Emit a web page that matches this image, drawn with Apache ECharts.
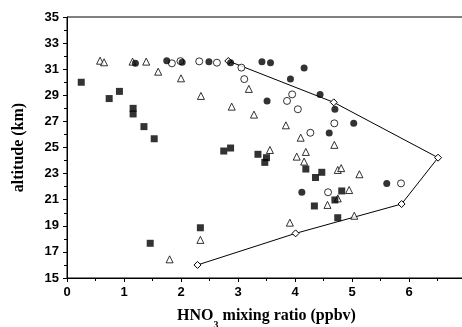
<!DOCTYPE html>
<html><head><meta charset="utf-8">
<script src="https://cdn.jsdelivr.net/npm/echarts@6/dist/echarts.min.js"></script>
<style>html,body{margin:0;padding:0;background:#fff}#c{width:462px;height:327px}</style>
</head><body><div id="c"></div>
<script>
var xTicks = [0,1,2,3,4,5,6];
var yTicks = [15,17,19,21,23,25,27,29,31,33,35];
var filledSquares = [[0.25,30.0],[0.74,28.75],[0.92,29.3],[1.16,28.0],[1.16,27.57],[1.35,26.6],[1.53,25.67],[1.46,17.66],[2.34,18.85],[2.75,24.73],[2.87,24.96],[3.35,24.48],[3.50,24.22],[3.47,23.86],[4.19,23.35],[4.36,22.7],[4.47,23.1],[4.34,20.52],[4.82,21.67],[4.70,20.98],[4.75,19.62]];
var filledCircles = [[1.20,31.45],[1.75,31.65],[2.02,31.53],[2.49,31.57],[2.87,31.5],[3.42,31.57],[3.57,31.5],[4.16,31.1],[3.92,30.24],[3.51,28.57],[4.44,29.07],[4.70,27.93],[5.03,26.85],[4.60,26.12],[4.12,21.57],[5.61,22.25]];
var openCircles = [[1.84,31.45],[1.99,31.62],[2.32,31.6],[2.63,31.5],[3.06,31.12],[3.11,30.24],[3.86,28.57],[3.95,29.07],[4.05,27.93],[4.27,26.13],[4.69,26.85],[4.58,21.57],[5.86,22.25]];
var openTriangles = [[0.58,31.65],[0.65,31.53],[1.15,31.58],[1.39,31.58],[1.60,30.81],[2.0,30.3],[2.35,28.95],[2.89,28.13],[3.19,29.49],[3.28,27.52],[3.84,26.7],[4.10,25.75],[3.56,24.81],[4.03,24.3],[4.19,24.66],[4.16,23.92],[4.69,25.2],[4.75,23.28],[4.81,23.42],[5.13,22.95],[4.95,21.74],[4.57,20.6],[4.75,21.1],[5.04,19.77],[3.91,19.24],[2.34,17.92],[1.80,16.43]];
var envelope = [[2.83,31.63],[4.68,28.46],[6.51,24.22],[5.87,20.67],[4.01,18.42],[2.29,16.0]];

var chart = echarts.init(document.getElementById('c'), null, {renderer:'canvas'});
var lblFont = {fontFamily:'Liberation Sans', fontWeight:'bold', fontSize:13, color:'#000'};
function openStyle(){ return {color:'#fff', borderColor:'#000', borderWidth:1}; }
chart.setOption({
  animation:false,
  backgroundColor:'#fff',
  grid:{left:67, top:17, width:399, height:261, outerBoundsMode:'none', containLabel:false, show:true, borderColor:'#000', borderWidth:1, backgroundColor:'transparent'},
  xAxis:{type:'value', min:0, max:7, interval:1,
    axisLine:{lineStyle:{color:'#000', width:1}},
    axisTick:{show:true, length:4, lineStyle:{color:'#000'}},
    minorTick:{show:true, splitNumber:2, length:3, lineStyle:{color:'#000'}},
    splitLine:{show:false},
    axisLabel:Object.assign({margin:8, formatter:function(v){return xTicks.indexOf(v)>=0? String(v):'';}}, lblFont),
    name:'{a|HNO}{s|3}{a| mixing ratio (ppbv)}', nameLocation:'middle', nameGap:30,
    nameTextStyle:{rich:{a:{fontFamily:'Liberation Serif', fontWeight:'bold', fontSize:16, color:'#000'}, s:{fontFamily:'Liberation Serif', fontWeight:'bold', fontSize:10, color:'#000', verticalAlign:'bottom', padding:[0,0,-6,0]}}}
  },
  yAxis:{type:'value', min:15, max:35, interval:2,
    axisLine:{show:true, lineStyle:{color:'#000', width:1}},
    axisTick:{show:true, length:4, lineStyle:{color:'#000'}},
    minorTick:{show:true, splitNumber:2, length:3, lineStyle:{color:'#000'}},
    splitLine:{show:false},
    axisLabel:Object.assign({margin:8, formatter:function(v){return yTicks.indexOf(v)>=0? String(v):'';}}, lblFont),
    name:'altitude (km)', nameLocation:'middle', nameGap:40,
    nameTextStyle:{fontFamily:'Liberation Serif', fontWeight:'bold', fontSize:16, color:'#000'}
  },
  series:[
    {type:'line', data:envelope, symbol:'diamond', symbolSize:7, showSymbol:true, lineStyle:{color:'#000', width:1}, itemStyle:openStyle(), z:2},
    {type:'scatter', data:openTriangles, symbol:'triangle', symbolSize:7, itemStyle:openStyle(), z:3},
    {type:'scatter', data:openCircles, symbol:'circle', symbolSize:7, itemStyle:openStyle(), z:3},
    {type:'scatter', data:filledCircles, symbol:'circle', symbolSize:7, itemStyle:{color:'#000'}, z:4},
    {type:'scatter', data:filledSquares, symbol:'rect', symbolSize:7, itemStyle:{color:'#000'}, z:4}
  ]
});
</script></body></html>
